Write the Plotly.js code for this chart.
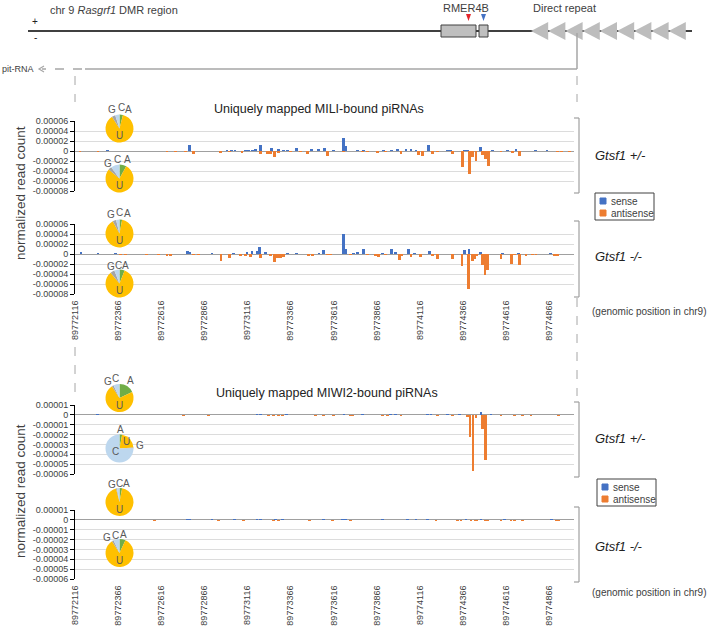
<!DOCTYPE html>
<html><head><meta charset="utf-8">
<script src="https://cdn.plot.ly/plotly-3.0.1.min.js"></script>
<style>html,body{margin:0;padding:0;background:#fff}#chart{width:708px;height:628px}</style>
</head><body><div id="chart"></div>
<script>
// ---------------- DATA ----------------
const xTickLabels = ['89772116','89772366','89772616','89772866','89773116','89773366','89773616','89773866','89774116','89774366','89774616','89774866'];
const miliYTickVals = [0.00006,0.00004,0.00002,0,-0.00002,-0.00004,-0.00006,-0.00008];
const miliYTickText = ['0.00006','0.00004','0.00002','0','-0.00002','-0.00004','-0.00006','-0.00008'];
const miwiYTickVals = [0.00001,0,-0.00001,-0.00002,-0.00003,-0.00004,-0.00005,-0.00006];
const miwiYTickText = ['0.00001','0','-0.00001','-0.00002','-0.00003','-0.00004','-0.00005','-0.00006'];
const seriesNames = ['sense','antisense'];

// MILI, Gtsf1 +/-
const miliHetSenseX = [89772306,89772779,89772998,89773023,89773044,89773104,89773122,89773145,89773163,89773192,89773256,89773296,89773325,89773349,89773401,89773488,89773529,89773564,89773614,89773672,89773686,89773754,89773790,89773905,89773951,89773986,89774035,89774064,89774093,89774164,89774277,89774292,89774374,89774393,89774467,89774539,89774626,89774674,89774786,89774853];
const miliHetSenseY = [2e-6,1.2e-5,2e-6,2e-6,3e-6,3e-6,2.5e-6,3e-6,5e-6,1.2e-5,6.7e-6,4e-6,3e-6,3e-6,6.7e-6,4e-6,4e-6,6e-6,3e-6,2.53e-5,1.07e-5,3e-6,2e-6,3e-6,3e-6,4e-6,4e-6,5e-6,3e-6,1.2e-5,2e-6,2e-6,3e-6,3e-6,8e-6,3e-6,3e-6,4e-6,2e-6,2e-6];
const miliHetAntiX = [89772145,89772250,89772649,89772697,89772756,89772802,89772959,89773011,89773085,89773192,89773232,89773250,89773273,89773298,89773366,89773424,89773465,89773581,89773674,89773783,89773812,89773870,89773918,89774006,89774110,89774132,89774190,89774219,89774306,89774362,89774405,89774422,89774442,89774480,89774496,89774513,89774587,89774655,89774693,89774916,89774936,89774982];
const miliHetAntiY = [-1e-6,-1e-6,-2e-6,-1e-6,-1e-6,-6e-6,-3e-6,-1e-6,-3e-6,-6.7e-6,-5e-6,-6e-6,-1.1e-5,-4e-6,-1e-6,-2e-6,-5e-6,-9.3e-6,-2e-6,-2e-6,-2e-6,-3e-6,-2e-6,-6.7e-6,-7e-6,-9e-6,-5e-6,-2e-6,-5e-6,-3.27e-5,-4.67e-5,-1.2e-5,-1.93e-5,-8e-6,-1.67e-5,-2.93e-5,-2e-6,-3e-6,-1e-5,-2e-6,-2e-6,-2e-6];

// MILI, Gtsf1 -/-
const miliKoSenseX = [89772151,89772250,89772349,89772769,89772781,89772911,89773036,89773114,89773143,89773172,89773188,89773221,89773347,89773401,89773531,89773556,89773672,89773686,89773732,89773756,89773789,89773899,89773951,89773976,89774048,89774083,89774170,89774374,89774401,89774467,89774597,89774688,89774874];
const miliKoSenseY = [4e-6,2e-6,2e-6,6.7e-6,5e-6,3e-6,2e-6,4e-6,6.7e-6,6e-6,1.4e-5,5e-6,3e-6,3e-6,3e-6,8.7e-6,4.07e-5,1e-5,3e-6,4e-6,9.3e-6,3e-6,1e-5,5e-6,9.3e-6,3e-6,6e-6,7.3e-6,9.3e-6,5e-6,3e-6,3e-6,2e-6];
const miliKoAntiX = [89772378,89772407,89772529,89772600,89772649,89772668,89772802,89772831,89772963,89773013,89773075,89773104,89773133,89773192,89773250,89773273,89773289,89773308,89773327,89773471,89773492,89773579,89773599,89773715,89773812,89773860,89773874,89773918,89773996,89774010,89774064,89774118,89774190,89774219,89774306,89774360,89774399,89774422,89774436,89774448,89774480,89774494,89774510,89774587,89774649,89774664,89774693,89774732,89774771,89774790,89774895,89774916];
const miliKoAntiY = [-2e-6,-2e-6,-2e-6,-2e-6,-3e-6,-3e-6,-2e-6,-2e-6,-1.47e-5,-8e-6,-3e-6,-4e-6,-5e-6,-8e-6,-4e-6,-1.6e-5,-8e-6,-7e-6,-5e-6,-3e-6,-3e-6,-2e-6,-2e-6,-2e-6,-2e-6,-3e-6,-6.7e-6,-2e-6,-1.13e-5,-3e-6,-5.3e-6,-6.7e-6,-4e-6,-9.3e-6,-9.3e-6,-2.47e-5,-7.07e-5,-1.47e-5,-9.3e-6,-4e-6,-2.13e-5,-4.27e-5,-3.2e-5,-9.3e-6,-2e-5,-2e-6,-2.27e-5,-3e-6,-2e-6,-2e-6,-3e-6,-3e-6];

// MIWI2, Gtsf1 +/-
const miwiHetSenseX = [89772248,89773172,89773192,89773343,89773676,89773783,89773947,89773976,89774161,89774180,89774277,89774345,89774471,89774529];
const miwiHetSenseY = [1e-6,1.3e-6,1.3e-6,1e-6,1.3e-6,1e-6,1e-6,1e-6,1e-6,1e-6,1e-6,1e-6,2.7e-6,1e-6];
const miwiHetAntiX = [89772746,89772891,89773238,89773269,89773298,89773320,89773511,89773558,89773616,89773715,89773726,89773899,89773928,89774006,89774219,89774306,89774393,89774407,89774424,89774442,89774480,89774496,89774587,89774663,89774713,89774761,89774920];
const miwiHetAntiY = [-1e-6,-1e-6,-1e-6,-1e-6,-1e-6,-1e-6,-1e-6,-1e-6,-1e-6,-1e-6,-1e-6,-1e-6,-1e-6,-1e-6,-1e-6,-1e-6,-2e-6,-2.23e-5,-5.67e-5,-3e-6,-1.43e-5,-4.6e-5,-1e-6,-1e-6,-1e-6,-1e-6,-1e-6];

// MIWI2, Gtsf1 -/-
const miwiKoSenseX = [89772765,89772781,89772911,89773042,89773172,89773192,89773279,89773318,89773556,89773667,89773686,89773899,89774044,89774093,89774161,89774383,89774471,89774606,89774878];
const miwiKoSenseY = [1e-6,1e-6,1e-6,1e-6,1.3e-6,1.3e-6,1e-6,1e-6,1e-6,1e-6,1.3e-6,1e-6,1e-6,1e-6,1e-6,1e-6,1.3e-6,1e-6,1e-6];
const miwiKoAntiX = [89772575,89772949,89773094,89773269,89773298,89773478,89773608,89773715,89774209,89774335,89774354,89774413,89774436,89774448,89774494,89774510,89774587,89774645,89774664,89774713,89774907,89774920];
const miwiKoAntiY = [-1e-6,-1e-6,-1e-6,-1e-6,-1e-6,-1e-6,-1e-6,-1e-6,-1e-6,-1e-6,-1e-6,-1.3e-6,-1e-6,-1.3e-6,-1.3e-6,-1e-6,-1e-6,-1e-6,-1e-6,-1e-6,-1e-6,-1e-6];

// first-nucleotide composition pies (%), slice order clockwise from 12 o'clock
const pieLabels = ['A','U','G','C'];
const miliHetSensePie = [4,87,4,5];
const miliHetAntiPie  = [8,78,4,10];
const miliKoSensePie  = [3,89,4,4];
const miliKoAntiPie   = [6,83,5,6];
const miwiHetSensePie = [18,73,2,7];
const miwiHetAntiPie  = [3,21,1,75];
const miwiKoSensePie  = [3,93,1,3];
const miwiKoAntiPie   = [7,84,2,7];

// ---------------- RENDER ----------------
const W=708, H=628;
const fx=p=>p/W, fy=p=>1-p/H;
const FONT='"Liberation Sans", Arial, sans-serif';
const SENSE='#4472C4', ANTI='#ED7D31';
const PIE_COL={A:'#70AD47',U:'#FFC000',G:'#A5A5A5',C:'#BDD7EE'};
const xRange=[89772116, 89775010];
const xTickVals=xTickLabels.map(Number);
const BAR_W=16;
const PLOT_L=75, PLOT_R=574;

const panels=[
  {sx:miliHetSenseX, sy:miliHetSenseY, ax:miliHetAntiX, ay:miliHetAntiY, top:121, bot:191, range:[-0.00008,0.00006], tv:miliYTickVals, tt:miliYTickText, lab:false},
  {sx:miliKoSenseX,  sy:miliKoSenseY,  ax:miliKoAntiX,  ay:miliKoAntiY,  top:224, bot:294, range:[-0.00008,0.00006], tv:miliYTickVals, tt:miliYTickText, lab:true},
  {sx:miwiHetSenseX, sy:miwiHetSenseY, ax:miwiHetAntiX, ay:miwiHetAntiY, top:405, bot:474, range:[-0.00006,0.00001], tv:miwiYTickVals, tt:miwiYTickText, lab:false},
  {sx:miwiKoSenseX,  sy:miwiKoSenseY,  ax:miwiKoAntiX,  ay:miwiKoAntiY,  top:510, bot:579, range:[-0.00006,0.00001], tv:miwiYTickVals, tt:miwiYTickText, lab:true}
];

const data=[];
const layout={
  width:W, height:H, margin:{l:0,r:0,t:0,b:0}, autosize:false,
  paper_bgcolor:'#fff', plot_bgcolor:'rgba(0,0,0,0)',
  font:{family:FONT, color:'#404040', size:10},
  showlegend:false, barmode:'overlay', bargap:0,
  annotations:[], shapes:[]
};

panels.forEach((p,i)=>{
  const n=i===0?'':String(i+1);
  data.push({type:'bar', x:p.sx, y:p.sy, width:BAR_W, name:seriesNames[0], marker:{color:SENSE, line:{width:0}}, xaxis:'x'+n, yaxis:'y'+n, hoverinfo:'skip'});
  data.push({type:'bar', x:p.ax, y:p.ay, width:BAR_W, name:seriesNames[1], marker:{color:ANTI, line:{width:0}}, xaxis:'x'+n, yaxis:'y'+n, hoverinfo:'skip'});
  layout['xaxis'+n]={domain:[fx(PLOT_L),fx(PLOT_R)], range:xRange, anchor:'y'+n,
    showgrid:false, zeroline:false, showline:false,
    tickmode:'array', tickvals:xTickVals, ticktext:xTickLabels, tickangle:-90,
    showticklabels:p.lab, ticks:p.lab?'outside':'', ticklen:2, tickcolor:'rgba(0,0,0,0)',
    tickfont:{size:9, color:'#404040'}, fixedrange:true};
  layout['yaxis'+n]={domain:[fy(p.bot),fy(p.top)], range:p.range, anchor:'x'+n,
    tickmode:'array', tickvals:p.tv, ticktext:p.tt,
    showline:true, linecolor:'#000', linewidth:1, ticks:'outside', ticklen:4, tickcolor:'#000',
    showgrid:true, gridcolor:'#dcdcdc', gridwidth:1,
    zeroline:true, zerolinecolor:'#a0a0a0', zerolinewidth:1,
    tickfont:{size:9, color:'#404040'}, fixedrange:true};
});

// pies
const R=14;
const pies=[
  {v:miliHetSensePie, cx:119.5, cy:128.5, lab:[['G',112,110],['C',121,108],['A',128.5,110],['U',119.5,135]]},
  {v:miliHetAntiPie,  cx:119.5, cy:178.5, lab:[['G',108,164],['C',117,159.5],['A',127.5,159.5],['U',119.5,185]]},
  {v:miliKoSensePie,  cx:119.5, cy:233.5, lab:[['G',111,214],['C',119.5,212.5],['A',127,213],['U',119.5,240]]},
  {v:miliKoAntiPie,   cx:119.5, cy:283.5, lab:[['G',110.5,266],['C',118,265],['A',125.5,265],['U',119.5,290]]},
  {v:miwiHetSensePie, cx:119.5, cy:398,   lab:[['G',108,381],['C',116,378],['A',130,380],['U',119.5,405]]},
  {v:miwiHetAntiPie,  cx:119.5, cy:448.5, lab:[['A',120.5,429.5],['U',126,441.5],['G',139.5,445],['C',115,451.5]]},
  {v:miwiKoSensePie,  cx:119.5, cy:502,   lab:[['G',111.5,484],['C',119,483.5],['A',126,483.5],['U',119.5,509]]},
  {v:miwiKoAntiPie,   cx:119.5, cy:553,   lab:[['G',107,537],['C',115,535],['A',123.5,534],['U',119.5,560]]}
];
pies.forEach(pp=>{
  data.push({type:'pie', values:pp.v, labels:pieLabels, sort:false, direction:'clockwise', rotation:0,
    textinfo:'none', hoverinfo:'skip', showlegend:false,
    marker:{colors:pieLabels.map(l=>PIE_COL[l]), line:{width:0}},
    domain:{x:[fx(pp.cx-R),fx(pp.cx+R)], y:[fy(pp.cy+R),fy(pp.cy-R)]}});
  pp.lab.forEach(([t,x,y])=>layout.annotations.push(ann(x,y,t,{size:10,color:'#595959'})));
});

function ann(x,y,text,o){
  o=o||{};
  return {xref:'paper',yref:'paper',x:fx(x),y:fy(y),text:text,showarrow:false,
    xanchor:o.xa||'center',yanchor:'middle',textangle:o.angle||0,
    font:{family:FONT,size:o.size||10,color:o.color||'#404040'}};
}
function line(x0,y0,x1,y1,color,width,dash){
  return {type:'line',xref:'paper',yref:'paper',x0:fx(x0),y0:fy(y0),x1:fx(x1),y1:fy(y1),
    line:{color:color,width:width||1,dash:dash||'solid'},layer:'above'};
}
function rect(x0,y0,x1,y1,fill,lc,lw){
  return {type:'rect',xref:'paper',yref:'paper',x0:fx(x0),y0:fy(y1),x1:fx(x1),y1:fy(y0),
    fillcolor:fill,line:{color:lc||fill,width:lw===undefined?1:lw},layer:'above'};
}
function poly(pts,fill,lc,lw,closed){
  const d=pts.map((p,k)=>(k?'L':'M')+fx(p[0]).toFixed(5)+','+fy(p[1]).toFixed(5)).join(' ')+(closed===false?'':' Z');
  return {type:'path',xref:'paper',yref:'paper',path:d,fillcolor:fill,line:{color:lc||fill,width:lw||0},layer:'above'};
}

const A=layout.annotations, S=layout.shapes;

// ---- top gene diagram ----
A.push(ann(48,10,'chr 9 <i>Rasgrf1</i> DMR region',{xa:'left',size:11}));
A.push(ann(35,22,'+',{size:10,color:'#222'}));
A.push(ann(35,38,'-',{size:10,color:'#222'}));
S.push(line(28,31,692,31,'#000',1.5));
S.push(rect(441,25,476,37,'#bfbfbf','#404040',1));
S.push(rect(479,25,488,37,'#bfbfbf','#404040',1));
A.push(ann(466,8,'RMER4B',{size:11}));
S.push(poly([[466,14],[471,14],[468.5,21]],'#e3262b'));
S.push(poly([[481,14],[486,14],[483.5,21]],'#4472c4'));
A.push(ann(531,8,'Direct repeat',{xa:'left',size:11}));
for(let k=0;k<9;k++){
  const x0=531+k*17.2;
  S.push(poly([[x0+17.2,22],[x0,31],[x0+17.2,40]],'#bdbdbd'));
}
S.push(line(577,33,577,69,'#a6a6a6',1.5));
S.push(line(577,69,85,69,'#a6a6a6',1.5));
S.push(line(82,69,42,69,'#a6a6a6',1.5,'dash'));
S.push(poly([[44,66],[39,69],[44,72]],'rgba(0,0,0,0)','#a6a6a6',1.2,false));
A.push(ann(36,69,'pit-RNA',{xa:'right',size:9}));

// dashed guides
S.push(line(75,76,75,102,'#a6a6a6',1,'dash'));
S.push(line(577,76,577,102,'#a6a6a6',1,'dash'));
S.push(line(75,347,75,400,'#a6a6a6',1,'dash'));
S.push(line(577,298,577,396,'#a6a6a6',1,'dash'));

// titles
A.push(ann(319,109,'Uniquely mapped MILI-bound piRNAs',{size:12.5,color:'#222'}));
A.push(ann(327,393,'Uniquely mapped MIWI2-bound piRNAs',{size:12.5,color:'#222'}));
A.push(ann(20,193,'normalized read count',{size:13.5,angle:-90}));
A.push(ann(20,491,'normalized read count',{size:13.5,angle:-90}));

// brackets + genotype labels
[[118,193,155,'<i>Gtsf1 +/-</i>'],[221,297,256,'<i>Gtsf1 -/-</i>'],[402,477,438,'<i>Gtsf1 +/-</i>'],[507,582,546,'<i>Gtsf1 -/-</i>']].forEach(b=>{
  S.push(line(574,b[0],579,b[0],'#a0a0a0',1.2));
  S.push(line(579,b[0],579,b[1],'#a0a0a0',1.2));
  S.push(line(574,b[1],579,b[1],'#a0a0a0',1.2));
  A.push(ann(593,b[2],b[3],{xa:'left',size:13,color:'#222'}));
});

// genomic position notes
A.push(ann(590,311,'(genomic position in chr9)',{xa:'left',size:10}));
A.push(ann(590,592,'(genomic position in chr9)',{xa:'left',size:10}));

// legends
[[595,193],[597,479]].forEach(([lx,ly])=>{
  S.push(rect(lx,ly,lx+59,ly+27,'rgba(0,0,0,0)','#404040',1));
  S.push(rect(lx+5,ly+5,lx+11,ly+11,SENSE));
  S.push(rect(lx+5,ly+17,lx+11,ly+23,ANTI));
  A.push(ann(lx+14,ly+8,seriesNames[0],{xa:'left',size:10}));
  A.push(ann(lx+14,ly+20,seriesNames[1],{xa:'left',size:10}));
});

Plotly.newPlot('chart',data,layout,{staticPlot:true,displayModeBar:false});
</script>
</body></html>
